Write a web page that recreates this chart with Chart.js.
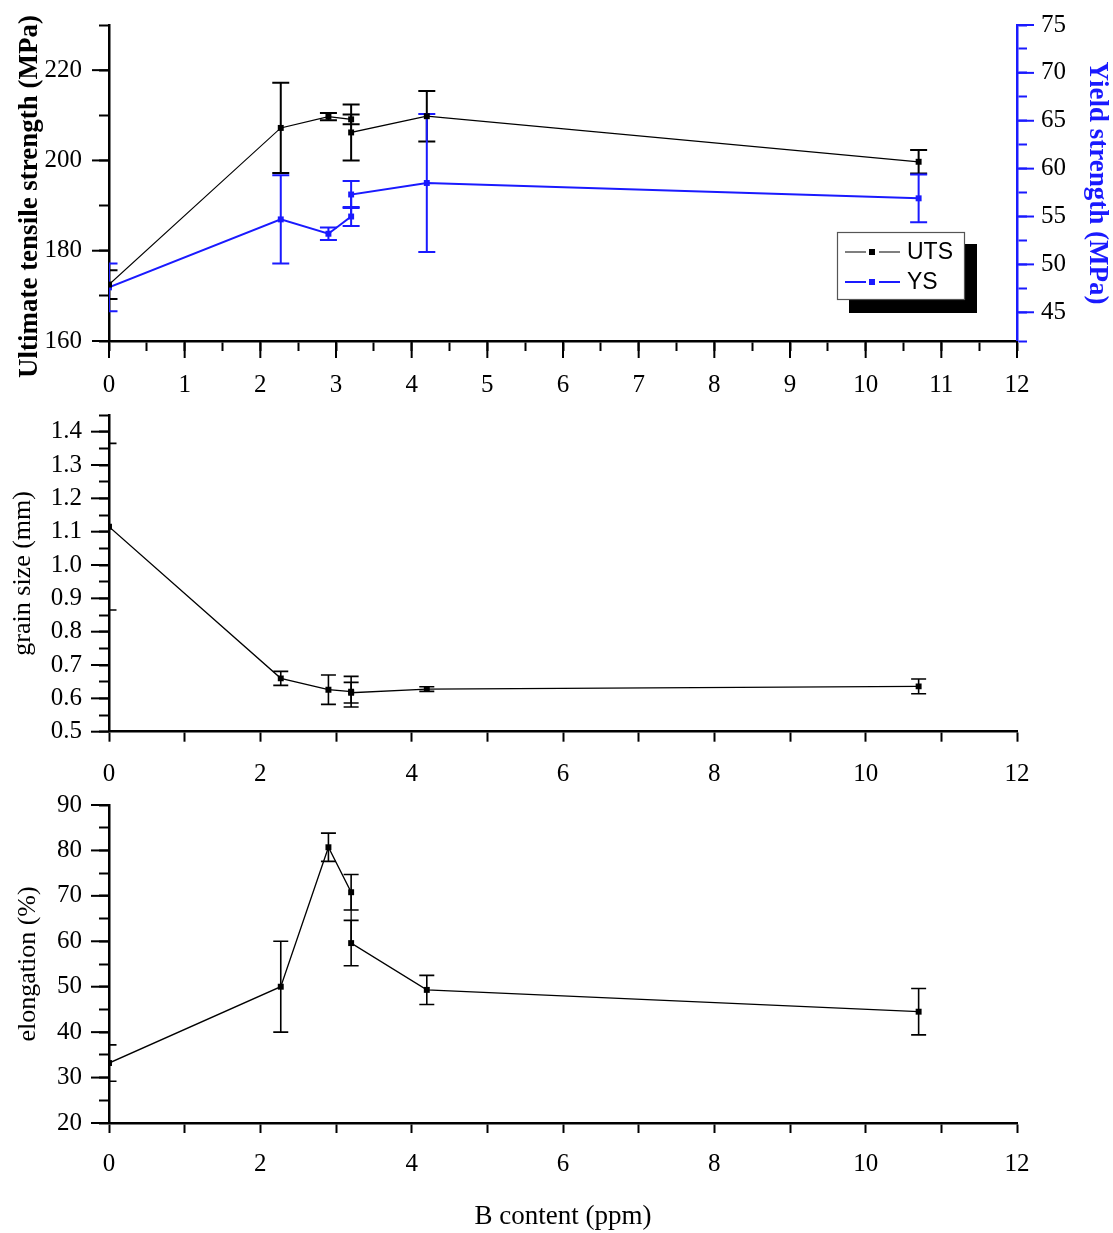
<!DOCTYPE html>
<html><head><meta charset="utf-8">
<script src="https://cdn.jsdelivr.net/npm/chart.js@4.4.1/dist/chart.umd.min.js"></script>
<style>
html,body{margin:0;padding:0;background:#fff;overflow:hidden;}
#wrap{position:relative;width:1113px;height:1233px;background:#fff;}
canvas{position:absolute;left:0;display:block;}
</style></head><body>
<div id="wrap">
<canvas id="c1" width="1113" height="400" style="top:0px"></canvas>
<canvas id="c2" width="1113" height="390" style="top:400px"></canvas>
<canvas id="c3" width="1113" height="443" style="top:790px"></canvas>
</div>
<script>
// ---- data ----
const bContent     = [0, 2.27, 2.9, 3.2, 3.2, 4.2, 10.7];
const utsValues    = [172.5, 207.2, 209.7, 209.1, 206.2, 209.8, 199.7];
const utsErrors    = [3.2, 10.0, 0.8, 1.1, 6.2, 5.6, 2.6];
const ysValues     = [47.6, 54.7, 53.2, 55.0, 57.3, 58.5, 56.9];
const ysErrors     = [2.5, 4.6, 0.65, 1.0, 1.4, 7.2, 2.5];
const grainValues  = [1.115, 0.660, 0.626, 0.620, 0.617, 0.628, 0.636];
const grainErrors  = [0.25, 0.021, 0.044, 0.046, 0.031, 0.007, 0.022];
const elongValues  = [33.2, 50.0, 80.7, 70.8, 59.6, 49.3, 44.5];
const elongErrors  = [4.0, 10.0, 3.1, 3.9, 5.0, 3.2, 5.1];
const seriesLabels = ['UTS', 'YS'];

const SERIF = "'Liberation Serif','Times New Roman',serif";
const SANS = "'Liberation Sans',Arial,sans-serif";
const BLUE = '#1a1aff';
Chart.defaults.font.family = SERIF;
Chart.defaults.font.size = 25;
Chart.defaults.color = '#000';

const pts = (vals) => bContent.map((x, i) => ({x: x, y: vals[i]}));

const errorBars = {
  id: 'errorBars',
  beforeDatasetsDraw(chart) {
    const {ctx, chartArea} = chart;
    ctx.save();
    ctx.beginPath();
    ctx.rect(chartArea.left, chartArea.top, chartArea.right - chartArea.left, chartArea.bottom - chartArea.top);
    ctx.clip();
    chart.data.datasets.forEach(ds => {
      if (!ds.errors) return;
      const xs = chart.scales[ds.xAxisID || 'x'];
      const ys = chart.scales[ds.yAxisID || 'y'];
      ctx.strokeStyle = ds.borderColor;
      ctx.lineWidth = ds.errorWidth || 1.5;
      const cap = (ds.capWidth || 16) / 2;
      ds.data.forEach((p, i) => {
        const e = ds.errors[i];
        const px = xs.getPixelForValue(p.x);
        const t = ys.getPixelForValue(p.y + e);
        const b = ys.getPixelForValue(p.y - e);
        ctx.beginPath();
        ctx.moveTo(px, t); ctx.lineTo(px, b);
        ctx.moveTo(px - cap, t); ctx.lineTo(px + cap, t);
        ctx.moveTo(px - cap, b); ctx.lineTo(px + cap, b);
        ctx.stroke();
      });
    });
    ctx.restore();
  }
};

const tickExt = {
  id: 'tickExt',
  afterDraw(chart, args, opts) {
    const ctx = chart.ctx, ca = chart.chartArea;
    (opts.items || []).forEach(it => {
      const s = chart.scales[it.id];
      ctx.save();
      ctx.strokeStyle = it.color || '#000';
      ctx.lineWidth = 2;
      for (let k = 0; k <= it.n; k++) {
        const p = s.getPixelForValue(it.from + k * it.step);
        ctx.beginPath();
        if (s.axis === 'x') { ctx.moveTo(p, ca.bottom); ctx.lineTo(p, ca.bottom + it.len); }
        else if (s.position === 'left') { ctx.moveTo(ca.left, p); ctx.lineTo(ca.left - it.len, p); }
        else { ctx.moveTo(ca.right, p); ctx.lineTo(ca.right + it.len, p); }
        ctx.stroke();
      }
      ctx.restore();
    });
  }
};

const boxLegend = {
  id: 'boxLegend',
  afterDraw(chart) {
    const ctx = chart.ctx;
    ctx.save();
    ctx.fillStyle = '#000';
    ctx.fillRect(849, 244, 128, 69);
    ctx.fillStyle = '#fff';
    ctx.fillRect(837, 232, 128, 68);
    ctx.strokeStyle = '#555';
    ctx.lineWidth = 1.2;
    ctx.strokeRect(837.5, 232.5, 127, 67);
    const rows = [252, 282];
    chart.data.datasets.forEach((ds, i) => {
      const y = rows[i];
      ctx.strokeStyle = ds.borderColor;
      ctx.lineWidth = ds.borderWidth;
      ctx.beginPath();
      ctx.moveTo(845, y); ctx.lineTo(866, y);
      ctx.moveTo(879, y); ctx.lineTo(900, y);
      ctx.stroke();
      ctx.fillStyle = ds.borderColor;
      ctx.fillRect(869, y - 3, 6, 6);
      ctx.fillStyle = '#000';
      ctx.font = '23px ' + SANS;
      ctx.textBaseline = 'middle';
      ctx.textAlign = 'left';
      ctx.fillText(ds.label, 907, y + 1);
    });
    ctx.restore();
  }
};

function axisBase(color) {
  return {
    border: {display: true, color: color, width: 2.5},
    grid: {display: true, drawOnChartArea: false, drawTicks: true, tickLength: 10, tickWidth: 2, tickColor: color}
  };
}
function fitY(w) { return s => { s.width = w; s.paddingTop = 0; s.paddingBottom = 0; }; }
function fitX(h) { return s => { s.height = h; s.paddingLeft = 0; s.paddingRight = 0; }; }

// ---- chart 1 : UTS / YS ----
new Chart(document.getElementById('c1'), {
  type: 'line',
  data: {
    datasets: [
      {label: seriesLabels[0], data: pts(utsValues), errors: utsErrors, errorWidth: 2, capWidth: 17,
       borderColor: '#000', backgroundColor: '#000', borderWidth: 1.2, tension: 0,
       pointStyle: 'rect', pointRadius: 4.2, pointBorderWidth: 0, pointBackgroundColor: '#000', yAxisID: 'y'},
      {label: seriesLabels[1], data: pts(ysValues), errors: ysErrors, errorWidth: 2, capWidth: 17,
       borderColor: BLUE, backgroundColor: BLUE, borderWidth: 2, tension: 0,
       pointStyle: 'rect', pointRadius: 4.2, pointBorderWidth: 0, pointBackgroundColor: BLUE, yAxisID: 'y1'}
    ]
  },
  options: {
    responsive: false, animation: false, devicePixelRatio: 1,
    layout: {padding: {top: 25, left: 0, right: 0, bottom: 0}},
    plugins: {legend: {display: false}, tooltip: {enabled: false},
      tickExt: {items: [
        {id: 'x', from: 0, step: 1, n: 12, len: 17},
        {id: 'y', from: 160, step: 20, n: 3, len: 17},
        {id: 'y1', from: 45, step: 5, n: 6, len: 17, color: BLUE}
      ]}},
    scales: {
      x: Object.assign(axisBase('#000'), {type: 'linear', min: 0, max: 12, position: 'bottom',
        afterFit: fitX(59),
        ticks: {stepSize: 0.5, autoSkip: false, maxRotation: 0, padding: 19,
          callback: v => Number.isInteger(v) ? String(v) : ''}}),
      y: Object.assign(axisBase('#000'), {type: 'linear', position: 'left', min: 160, max: 230,
        afterFit: fitY(109),
        ticks: {stepSize: 10, autoSkip: false, padding: 17, callback: v => (v % 20 === 0 ? String(v) : '')},
        title: {display: true, text: 'Ultimate tensile strength (MPa)    ', font: {size: 27, weight: 'bold'}, padding: {top: 14, bottom: 0}}}),
      y1: Object.assign(axisBase(BLUE), {type: 'linear', position: 'right', min: 42, max: 75,
        afterFit: fitY(96),
        ticks: {stepSize: 2.5, autoSkip: false, padding: 14, color: '#000', callback: v => (Math.abs(v % 5) < 1e-9 ? String(v) : '')},
        title: {display: true, text: 'Yield strength (MPa)', color: BLUE, font: {size: 27, weight: 'bold'}, padding: {top: 0, bottom: 0}}})
    }
  },
  plugins: [errorBars, tickExt, boxLegend]
});

// ---- chart 2 : grain size ----
new Chart(document.getElementById('c2'), {
  type: 'line',
  data: {datasets: [{label: 'grain size', data: pts(grainValues), errors: grainErrors, errorWidth: 1.6, capWidth: 15,
    borderColor: '#000', borderWidth: 1.3, tension: 0, pointStyle: 'rect', pointRadius: 4.2, pointBorderWidth: 0, pointBackgroundColor: '#000'}]},
  options: {
    responsive: false, animation: false, devicePixelRatio: 1,
    layout: {padding: {top: 15, left: 0, right: 96, bottom: 0}},
    plugins: {legend: {display: false}, tooltip: {enabled: false},
      tickExt: {items: [{id: 'y', from: 0.5, step: 0.1, n: 9, len: 18}]}},
    scales: {
      x: Object.assign(axisBase('#000'), {type: 'linear', min: 0, max: 12, position: 'bottom',
        afterFit: fitX(58.3),
        ticks: {stepSize: 1, autoSkip: false, maxRotation: 0, padding: 18,
          callback: v => (v % 2 === 0 ? String(v) : '')}}),
      y: Object.assign(axisBase('#000'), {type: 'linear', position: 'left', min: 0.5, max: 1.45,
        afterFit: fitY(109),
        ticks: {stepSize: 0.05, autoSkip: false, padding: 17,
          callback: v => (Math.abs(v * 10 - Math.round(v * 10)) < 1e-6 ? v.toFixed(1) : '')},
        title: {display: true, text: 'grain size (mm)', font: {size: 26}, padding: {top: 8, bottom: 0}}})
    }
  },
  plugins: [errorBars, tickExt]
});

// ---- chart 3 : elongation ----
new Chart(document.getElementById('c3'), {
  type: 'line',
  data: {datasets: [{label: 'elongation', data: pts(elongValues), errors: elongErrors, errorWidth: 1.6, capWidth: 15,
    borderColor: '#000', borderWidth: 1.3, tension: 0, pointStyle: 'rect', pointRadius: 4.2, pointBorderWidth: 0, pointBackgroundColor: '#000'}]},
  options: {
    responsive: false, animation: false, devicePixelRatio: 1,
    layout: {padding: {top: 15, left: 0, right: 96, bottom: 0}},
    plugins: {legend: {display: false}, tooltip: {enabled: false},
      tickExt: {items: [{id: 'y', from: 20, step: 10, n: 7, len: 18}]}},
    scales: {
      x: Object.assign(axisBase('#000'), {type: 'linear', min: 0, max: 12, position: 'bottom',
        afterFit: fitX(110),
        ticks: {stepSize: 1, autoSkip: false, maxRotation: 0, padding: 16,
          callback: v => (v % 2 === 0 ? String(v) : '')},
        title: {display: true, text: 'B content (ppm)', font: {size: 27}, padding: {top: 0, bottom: 0}}}),
      y: Object.assign(axisBase('#000'), {type: 'linear', position: 'left', min: 20, max: 90,
        afterFit: fitY(109),
        ticks: {stepSize: 5, autoSkip: false, padding: 17, callback: v => (v % 10 === 0 ? String(v) : '')},
        title: {display: true, text: 'elongation (%)', font: {size: 26}, padding: {top: 13, bottom: 0}}})
    }
  },
  plugins: [errorBars, tickExt]
});
</script>
</body></html>
